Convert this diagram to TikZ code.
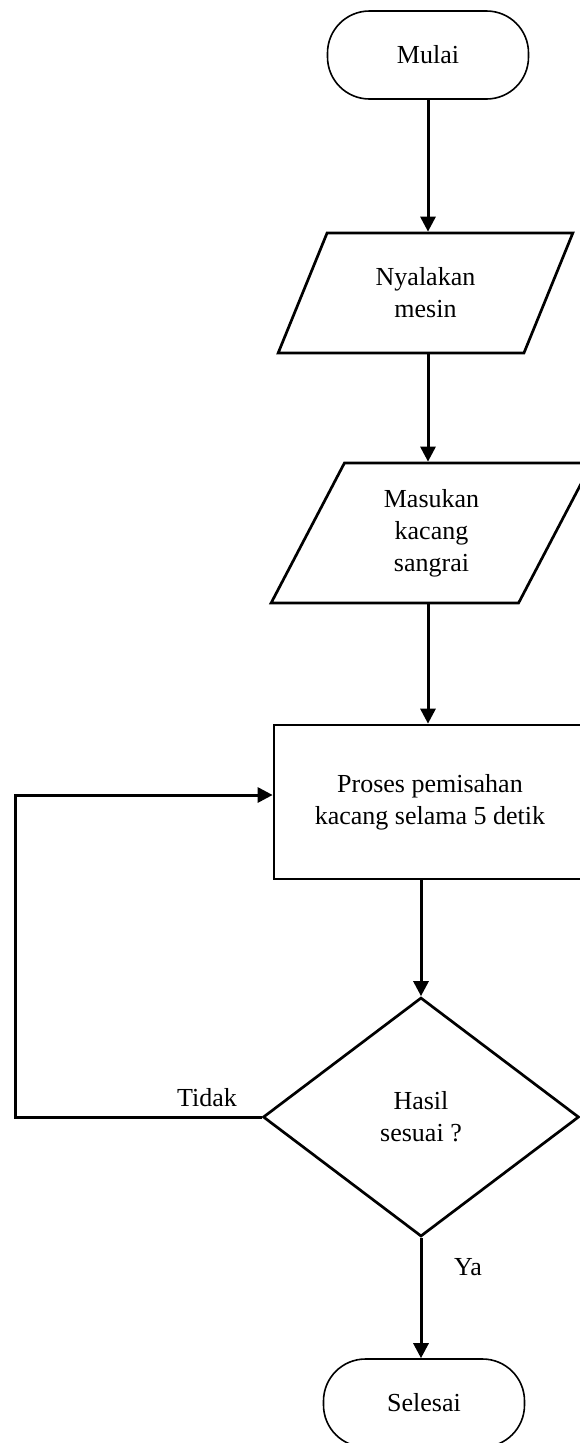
\documentclass[tikz,border=0pt]{standalone}
\usepackage{fontspec}
\setmainfont{Liberation Serif}
\usepackage{tikz}
\usetikzlibrary{shapes.geometric}
\usetikzlibrary{arrows.meta}

\begin{document}
\begin{tikzpicture}[x=1pt,y=-1pt,font=\fontsize{26}{32}\selectfont]
			
			\tikzstyle{terminal} = [draw,line width=1.6pt,rounded corners=42pt,minimum width=201pt,minimum height=88pt]
			\tikzstyle{io} = [draw,line width=2.7pt,trapezium,trapezium stretches=true,align=center,inner sep=0pt]
			\tikzstyle{process} = [draw,line width=2.7pt,minimum width=312pt,minimum height=154pt,align=center]
			\tikzstyle{decision} = [draw,line width=2.7pt,diamond,minimum width=316pt,minimum height=239pt,align=center,inner sep=0pt]
			\tikzstyle{flow} = [line width=3pt,-{Triangle[length=15pt,width=15pt]}]
			
			\useasboundingbox (0,0) rectangle (580,1443);
			\clip (0,0) rectangle (580,1443);
			
			\node[terminal] (mulai) at (428,55) {Mulai};
			\node[io,trapezium left angle=63.8,trapezium right angle=116.2,minimum width=295pt,minimum height=120pt] (nyala) at (425.5,293) {Nyalakan\\mesin};
			\node[io,trapezium left angle=65.4,trapezium right angle=114.6,minimum width=321pt,minimum height=140pt] (masuk) at (431.5,533) {Masukan\\kacang\\sangrai};
			\node[process] (proses) at (430,802) {Proses pemisahan\\kacang selama 5 detik};
			\node[decision] (cek) at (421,1117) {Hasil\\sesuai ?};
			\node[terminal] (selesai) at (424,1403) {Selesai};
			
			\draw[flow] (mulai.south) -- (mulai.south |- nyala.north);
			\draw[flow] (mulai.south |- nyala.south) -- (mulai.south |- masuk.north);
			\draw[flow] (mulai.south |- masuk.south) -- (mulai.south |- proses.north);
			\draw[flow] (cek.north |- proses.south) -- (cek.north);
			
			% loop back when the result is not right
			\coordinate (balik) at (15,1117);
			\draw[flow] (cek.west) -- (balik) |- ([yshift=7pt]proses.west);
			\node (tidak) at (207,1098) {Tidak};
			
			\draw[flow] (cek.south) -- (cek.south |- selesai.north);
			\node (ya) at (468,1267) {Ya};
		\end{tikzpicture}
\end{document}
